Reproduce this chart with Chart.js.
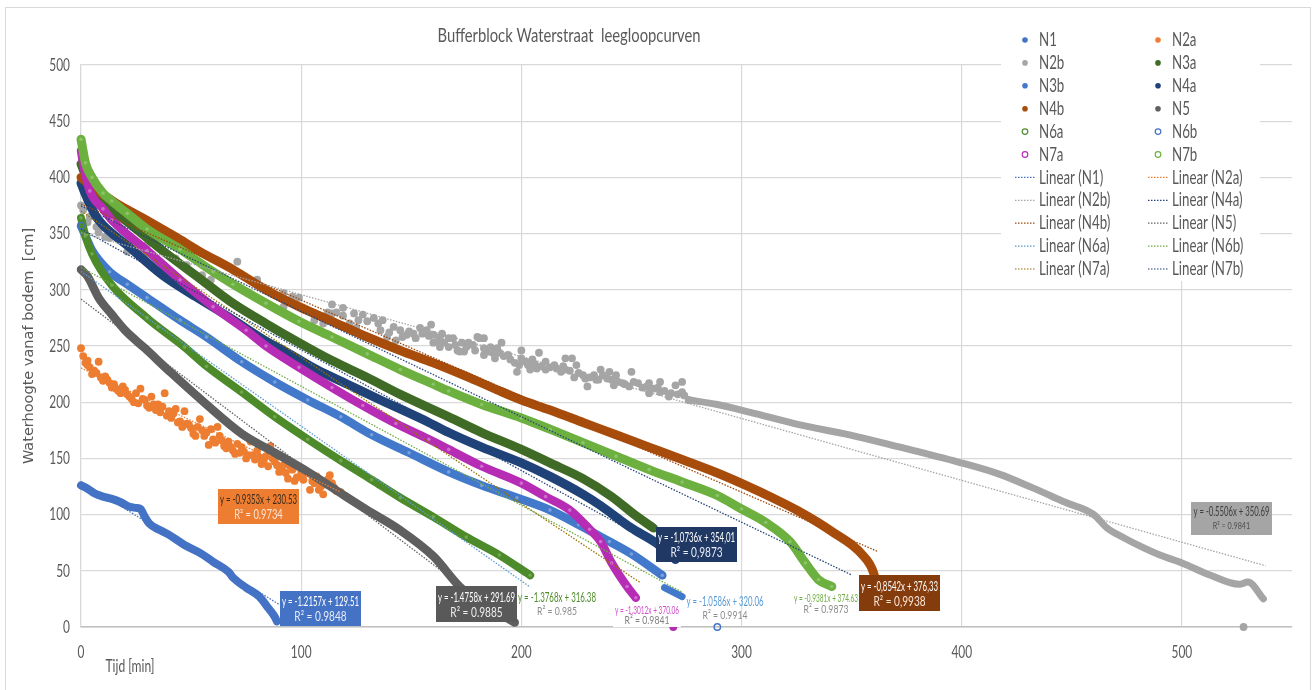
<!DOCTYPE html>
<html>
<head>
<meta charset="utf-8">
<title>Bufferblock Waterstraat leegloopcurven</title>
<script src="https://cdn.jsdelivr.net/npm/chart.js@4/dist/chart.umd.min.js"></script>
<style>
  html, body { margin: 0; padding: 0; background: #fff; }
  canvas { display: block; filter: blur(0.4px); }
</style>
</head>
<body>
<canvas id="scatter-chart" width="1315" height="690"></canvas>
<script>
// meetpunten: [tijd, waterhoogte]
var n1 = [[0,126],[3,123],[6,119],[10,116],[14,114],[18,111],[22,107],[25,106],[27,105],[29,98],[31,92],[36,86],[40,82],[47,73],[54,66],[60,58],[67,49],[69,44],[75,35],[81,27],[85,17],[88,9],[89,5]];
var n2aDots = [[0,248],[1,241],[2,235],[3,237],[3,233],[4,231],[5,225],[6,228],[7,226],[8,236],[9,222],[10,219],[11,223],[12,220],[13,217],[14,213],[15,216],[16,212],[17,210],[18,208],[19,214],[20,211],[21,207],[22,205],[23,203],[24,200],[25,208],[26,199],[27,212],[28,203],[29,202],[30,197],[31,195],[32,205],[33,198],[34,193],[35,198],[36,191],[37,196],[38,208],[39,188],[40,192],[41,186],[42,190],[43,194],[44,182],[45,183],[46,178],[47,192],[48,181],[49,180],[50,177],[51,172],[52,170],[53,178],[54,185],[55,175],[56,170],[57,173],[58,162],[59,176],[60,167],[61,164],[62,178],[63,170],[64,166],[65,161],[66,159],[67,165],[68,160],[69,157],[70,154],[71,163],[72,155],[73,160],[74,156],[75,150],[76,153],[77,165],[78,153],[79,149],[80,157],[81,151],[82,145],[83,148],[84,152],[85,143],[86,161],[87,150],[88,147],[89,144],[90,138],[91,140],[92,144],[93,137],[94,132],[95,143],[96,140],[97,130],[98,133],[100,136],[101,131],[103,137],[104,122],[105,130],[106,128],[107,134],[108,122],[109,125],[110,118],[111,127],[112,131],[113,135],[114,128],[115,124],[116,121],[118,120]];
var n2bDots = [[0,375],[1,371],[3,360],[4,365],[7,356],[8,351],[9,356],[11,347],[13,346],[21,334],[30,340],[37,335],[43,328],[48,322],[55,313],[59,309],[71,325],[80,309],[92,297],[92,285],[96,294],[99,293],[106,273],[110,270],[112,280],[114,287],[114,279],[116,280],[119,284],[119,277],[122,270],[124,279],[125,266],[126,273],[128,278],[130,272],[133,275],[135,270],[136,264],[137,273],[139,258],[140,262],[142,267],[143,255],[145,264],[146,258],[148,260],[149,263],[151,261],[152,257],[154,266],[155,261],[157,264],[158,259],[159,269],[160,260],[160,253],[162,254],[163,258],[163,249],[164,261],[165,253],[167,257],[167,249],[169,257],[170,251],[171,246],[172,245],[173,253],[174,245],[175,249],[176,253],[178,251],[179,246],[180,258],[181,257],[183,257],[183,248],[183,242],[185,245],[186,249],[187,244],[188,239],[189,248],[190,244],[191,253],[192,241],[194,242],[195,238],[197,235],[198,227],[199,233],[200,246],[200,239],[202,236],[203,233],[204,229],[205,238],[206,234],[207,230],[208,244],[209,232],[211,236],[211,229],[213,231],[215,233],[216,230],[218,227],[219,232],[220,239],[220,229],[222,228],[223,239],[224,222],[225,233],[226,226],[228,224],[229,221],[230,214],[231,222],[233,224],[234,220],[235,220],[236,229],[237,224],[239,221],[240,227],[241,220],[242,215],[243,224],[244,218],[246,217],[247,216],[249,214],[250,227],[251,218],[253,217],[255,213],[257,214],[258,217],[258,208],[260,212],[262,213],[263,218],[263,209],[265,210],[267,205],[268,208],[270,215],[271,207],[273,218],[273,209],[274,206],[276,202],[528,0]];
var n2bTail = [[276,202],[289,198],[304,191],[326,180],[349,171],[372,160],[398,147],[417,136],[432,124],[447,111],[460,100],[466,88],[474,79],[482,71],[490,64],[500,57],[513,46],[526,38],[530,40],[537,25]];
var n3a = [[0,412],[2,402],[5,392],[10,378],[22,359],[37,335],[54,310],[69,288],[84,270],[99,253],[114,237],[130,222],[145,207],[167,187],[182,173],[200,158],[213,146],[228,132],[241,116],[252,99],[260,88]];
var n3b = [[0,357],[2,348],[5,335],[13,316],[21,305],[30,293],[45,273],[57,258],[73,236],[88,218],[103,202],[118,187],[132,171],[149,155],[167,138],[182,126],[198,115],[213,104],[226,91],[240,76],[250,65],[264,46]];
var n3bTail = [[265,35],[273,27]];
var n4a = [[0,395],[2,385],[5,372],[8,362],[22,338],[37,313],[52,294],[67,276],[86,252],[92,246],[107,229],[121,216],[136,202],[158,182],[167,173],[182,160],[200,146],[213,134],[228,118],[236,108],[250,88],[261,75],[270,60]];
var n4b = [[0,400],[5,392],[16,377],[28,364],[43,347],[54,334],[69,318],[84,300],[99,285],[114,272],[130,258],[145,246],[160,235],[175,223],[189,211],[200,202],[213,193],[228,182],[243,171],[258,160],[273,149],[289,137],[302,126],[314,115],[326,103],[341,85],[355,64],[360,48],[362,30]];
var n5 = [[0,318],[3,312],[8,293],[14,278],[20,264],[29,248],[41,226],[57,198],[73,172],[88,155],[103,138],[118,119],[130,104],[145,86],[160,63],[173,34],[180,25],[190,12],[197,4]];
var n6a = [[0,364],[2,348],[5,332],[14,304],[30,275],[35,267],[47,249],[57,232],[73,209],[88,187],[103,167],[118,148],[132,131],[145,115],[160,98],[175,80],[190,64],[204,46]];
var n6bDots = [[0,357],[264,46],[289,0]];
var n7a = [[0,424],[1,412],[4,388],[10,372],[14,362],[30,335],[45,309],[60,285],[75,264],[84,250],[99,231],[114,213],[128,197],[143,181],[158,167],[167,158],[182,143],[200,128],[211,116],[222,104],[231,87],[236,76],[241,57],[248,36],[252,26]];
var n7aTail = [[269,0]];
var n7b = [[0,434],[2,413],[5,400],[10,386],[14,379],[21,368],[30,354],[45,336],[60,316],[69,305],[84,288],[99,272],[114,258],[130,243],[145,229],[160,216],[167,210],[182,198],[200,186],[213,176],[228,164],[243,152],[258,140],[273,129],[289,117],[300,105],[311,93],[322,76],[329,57],[335,42],[341,36]];

// trendlijnen: begin en eind
var trendN1 = [[0,129.5],[90,20]];
var trendN2a = [[0,230.5],[118,120]];
var trendN2b = [[0,350.7],[538,54.5]];
var trendN4a = [[0,354],[270,64]];
var trendN4b = [[0,376.3],[362,67]];
var trendN5 = [[0,291.7],[197,0.9]];
var trendN6a = [[0,316.4],[204,35.5]];
var trendN6b = [[0,320],[273,31]];
var trendN7a = [[0,370],[254,39.5]];
var trendN7b = [[0,374.6],[350,46.3]];

var xTicks = [0, 100, 200, 300, 400, 500];
var yTicks = [0, 50, 100, 150, 200, 250, 300, 350, 400, 450, 500];

var legendLeft = ["N1", "N2b", "N3b", "N4b", "N6a", "N7a", "Linear (N1)", "Linear (N2b)", "Linear (N4b)", "Linear (N6a)", "Linear (N7a)"];
var legendRight = ["N2a", "N3a", "N4a", "N5", "N6b", "N7b", "Linear (N2a)", "Linear (N4a)", "Linear (N5)", "Linear (N6b)", "Linear (N7b)"];

var eqN1 = ["y = -1.2157x + 129.51", "R\u00b2 = 0.9848"];
var eqN2a = ["y = -0.9353x + 230.53", "R\u00b2 = 0.9734"];
var eqN2b = ["y = -0.5506x + 350.69", "R\u00b2 = 0.9841"];
var eqN4a = ["y = -1,0736x + 354,01", "R\u00b2 = 0,9873"];
var eqN4b = ["y = -0,8542x + 376,33", "R\u00b2 = 0,9938"];
var eqN5 = ["y = -1.4758x + 291.69", "R\u00b2 = 0.9885"];
var eqN6a = ["y = -1.3768x + 316.38", "R\u00b2 = 0.985"];
var eqN6b = ["y = -1.0586x + 320.06", "R\u00b2 = 0.9914"];
var eqN7a = ["y = -1.3012x + 370.06", "R\u00b2 = 0.9841"];
var eqN7b = ["y = -0.9381x + 374.63", "R\u00b2 = 0.9873"];

var textFont = 'Lato, "Liberation Sans", sans-serif';

function xy(list) {
    return list.map(function (p) { return { x: p[0], y: p[1] }; });
}

// band = dikke lijn, dots = losse punten
function band(name, list, color, tint, width, order) {
    return {
        label: name, data: xy(list), showLine: true, borderColor: color, borderWidth: width,
        borderCapStyle: 'round', borderJoinStyle: 'round', cubicInterpolationMode: 'monotone', clip: false,
        pointRadius: tint ? 1.8 : 0, pointBorderWidth: 0, pointBackgroundColor: tint || color, order: order
    };
}

function dots(name, list, color, hollow, order) {
    return {
        label: name, data: xy(list), showLine: false, clip: false,
        pointRadius: hollow ? 3.2 : 3.9, pointBorderWidth: hollow ? 1.4 : 0, pointBorderColor: color,
        pointBackgroundColor: hollow ? 'rgba(255,255,255,0)' : color, order: order
    };
}

function trend(name, list, color) {
    return {
        label: name, data: xy(list), showLine: true, borderColor: color, borderWidth: 1.3,
        borderDash: [1.5, 1.5], pointRadius: 0, order: 1
    };
}

var colors = {
    "N1": '#4472c4', "N2a": '#ed7d31', "N2b": '#a5a5a5', "N3a": '#3f6b26', "N3b": '#4279cb', "N4a": '#1f4279',
    "N4b": '#a84c0c', "N5": '#5f5f5f', "N6a": '#4d8b2a', "N6b": '#4472c4', "N7a": '#b62cb4', "N7b": '#6cb03f',
    "Linear (N1)": '#4472c4', "Linear (N2a)": '#ed7d31', "Linear (N2b)": '#a5a5a5', "Linear (N4a)": '#264478',
    "Linear (N4b)": '#9e480e', "Linear (N5)": '#636363', "Linear (N6a)": '#5b9bd5', "Linear (N6b)": '#70ad47',
    "Linear (N7a)": '#997300', "Linear (N7b)": '#264478'
};
var hollowNames = ["N6a", "N6b", "N7a", "N7b"];

var datasets = [
    trend("Linear (N1)", trendN1, colors["Linear (N1)"]),
    trend("Linear (N2a)", trendN2a, colors["Linear (N2a)"]),
    trend("Linear (N2b)", trendN2b, colors["Linear (N2b)"]),
    trend("Linear (N4a)", trendN4a, colors["Linear (N4a)"]),
    trend("Linear (N4b)", trendN4b, colors["Linear (N4b)"]),
    trend("Linear (N5)", trendN5, colors["Linear (N5)"]),
    trend("Linear (N6a)", trendN6a, colors["Linear (N6a)"]),
    trend("Linear (N6b)", trendN6b, colors["Linear (N6b)"]),
    trend("Linear (N7a)", trendN7a, colors["Linear (N7a)"]),
    trend("Linear (N7b)", trendN7b, colors["Linear (N7b)"]),
    // hogere order wordt eerst getekend
    dots("N6b", n6bDots, colors["N6b"], true, 9),
    band("N7b", n7b, colors["N7b"], '#8cc46a', 9, 10),
    band("N7a", n7a, colors["N7a"], '#cf6ccd', 8.5, 11),
    dots("N7a", n7aTail, colors["N7a"], false, 11),
    band("N6a", n6a, colors["N6a"], '#70a850', 8, 12),
    band("N3b", n3b, colors["N3b"], '#7aa0db', 8.5, 13),
    band("N3b", n3bTail, colors["N3b"], null, 7, 13),
    band("N5", n5, colors["N5"], null, 8.5, 14),
    band("N4b", n4b, colors["N4b"], null, 9, 15),
    band("N4a", n4a, colors["N4a"], null, 9, 16),
    band("N3a", n3a, colors["N3a"], null, 9, 17),
    band("N2b", n2bTail, colors["N2b"], null, 7, 18),
    dots("N2b", n2bDots, colors["N2b"], false, 19),
    dots("N2a", n2aDots, colors["N2a"], false, 20),
    band("N1", n1, colors["N1"], null, 8, 21)
];

// vakjes met de vergelijkingen
var eqBoxes = [
    { lines: eqN1, x: 280, y: 591, w: 81, h: 35, fill: '#4472c4', c1: '#fff', c2: '#e8ecf8', s1: 14, s2: 14, tw: 77 },
    { lines: eqN2a, x: 218, y: 489, w: 81, h: 35, fill: '#ed7d31', c1: '#3a2a1a', c2: '#fbe5d6', s1: 14, s2: 13, tw: 77 },
    { lines: eqN5, x: 436, y: 586, w: 81, h: 36, fill: '#595959', c1: '#fff', c2: '#eee', s1: 14, s2: 14, tw: 77 },
    { lines: eqN4a, x: 656, y: 527, w: 81, h: 35, fill: '#1f3864', c1: '#fff', c2: '#e8ecf8', s1: 14, s2: 14, tw: 77 },
    { lines: eqN4b, x: 859, y: 575, w: 81, h: 36, fill: '#843c0c', c1: '#fff', c2: '#fbe5d6', s1: 14, s2: 14, tw: 77 },
    { lines: eqN2b, x: 1191, y: 502, w: 81, h: 33, fill: '#a5a5a5', c1: '#404040', c2: '#505050', s1: 13, s2: 10, tw: 76 },
    { lines: eqN6a, x: 518, y: 588, w: 78, h: 32, fill: null, c1: '#4d8b2a', c2: '#8c8c8c', s1: 14, s2: 12, tw: 78 },
    { lines: eqN7a, x: 613, y: 602, w: 68, h: 25, fill: '#fff', c1: '#d04fc8', c2: '#7f7f7f', s1: 12, s2: 12, tw: 64 },
    { lines: eqN6b, x: 686, y: 592, w: 78, h: 32, fill: null, c1: '#5b9bd5', c2: '#8c8c8c', s1: 14, s2: 12, tw: 77 },
    { lines: eqN7b, x: 793, y: 589, w: 66, h: 28, fill: null, c1: '#70ad47', c2: '#8c8c8c', s1: 12, s2: 12, tw: 64 }
];

// smalle tekst: het lettertype breder dan in het origineel, dus horizontaal inpersen
function narrowText(ctx, text, x, y, size, factor, color, align) {
    ctx.font = size + 'px ' + textFont;
    ctx.fillStyle = color;
    ctx.textAlign = align;
    ctx.textBaseline = 'middle';
    ctx.fillText(text, x, y, ctx.measureText(text).width * factor);
}

function fittedText(ctx, text, x, y, size, maxWidth, color) {
    ctx.font = size + 'px ' + textFont;
    ctx.fillStyle = color;
    ctx.textAlign = 'center';
    ctx.textBaseline = 'middle';
    ctx.fillText(text, x, y, maxWidth);
}

function drawLegendRow(ctx, name, markerX, lineX, textX, y) {
    var color = colors[name];
    if (name.indexOf("Linear") === 0) {
        ctx.strokeStyle = color;
        ctx.lineWidth = 1.2;
        ctx.setLineDash([1.5, 1.5]);
        ctx.beginPath();
        ctx.moveTo(lineX, y);
        ctx.lineTo(lineX + 21, y);
        ctx.stroke();
        ctx.setLineDash([]);
    } else {
        ctx.beginPath();
        ctx.arc(markerX, y, 2.8, 0, Math.PI * 2);
        if (hollowNames.indexOf(name) >= 0) {
            ctx.strokeStyle = color;
            ctx.lineWidth = 1.2;
            ctx.stroke();
        } else {
            ctx.fillStyle = color;
            ctx.fill();
        }
    }
    narrowText(ctx, name, textX, y, 19, 0.7, '#595959', 'left');
}

var decorPlugin = {
    id: 'decor',
    beforeDraw: function (chart) {
        var ctx = chart.ctx;
        ctx.save();
        ctx.strokeStyle = '#d9d9d9';
        ctx.lineWidth = 1;
        ctx.strokeRect(5.5, 7.5, 1305, 700);
        ctx.restore();
    },
    afterDatasetsDraw: function (chart) {
        var ctx = chart.ctx;
        ctx.save();

        // aslabels via de schalen van de grafiek
        chart.scales.x.ticks.forEach(function (t) {
            narrowText(ctx, String(t.value), chart.scales.x.getPixelForValue(t.value), 652, 18, 0.66, '#595959', 'center');
        });
        chart.scales.y.ticks.forEach(function (t) {
            narrowText(ctx, String(t.value), 70, chart.scales.y.getPixelForValue(t.value), 18, 0.66, '#595959', 'right');
        });

        fittedText(ctx, "Bufferblock Waterstraat  leegloopcurven", 569, 36, 19, 263, '#595959');
        fittedText(ctx, "Tijd [min]", 130, 667, 17, 49, '#595959');

        eqBoxes.forEach(function (b) {
            if (b.fill) {
                ctx.fillStyle = b.fill;
                ctx.fillRect(b.x, b.y, b.w, b.h);
            }
            var cx = b.x + b.w / 2;
            fittedText(ctx, b.lines[0], cx, b.y + b.h * 0.31, b.s1, b.tw, b.c1);
            narrowText(ctx, b.lines[1], cx, b.y + b.h * 0.73, b.s2, 0.72, b.c2, 'center');
        });

        // legenda in twee kolommen
        ctx.fillStyle = '#fff';
        ctx.fillRect(1001, 25, 259, 256);
        for (var i = 0; i < legendLeft.length; i++) {
            var rowY = 40 + i * 22.9;
            drawLegendRow(ctx, legendLeft[i], 1025, 1015, 1039, rowY);
            drawLegendRow(ctx, legendRight[i], 1158, 1148, 1172, rowY);
        }
        ctx.restore();
    }
};

var ctx = document.getElementById('scatter-chart').getContext('2d');
var chart = new Chart(ctx, {
    type: 'scatter',
    data: { datasets: datasets },
    plugins: [decorPlugin],
    options: {
        responsive: false,
        animation: false,
        layout: { padding: { top: 65, right: 23, left: 0, bottom: 0 } },
        plugins: { legend: { display: false }, title: { display: false }, tooltip: { enabled: false } },
        scales: {
            x: {
                type: 'linear', min: 0, max: 550,
                afterFit: function (scale) { scale.height = 63; },
                afterBuildTicks: function (scale) { scale.ticks = xTicks.map(function (v) { return { value: v }; }); },
                grid: { color: '#d9d9d9', lineWidth: 1.2, drawTicks: false },
                border: { color: '#bfbfbf', width: 1.5 },
                ticks: { display: false }
            },
            y: {
                type: 'linear', min: 0, max: 500,
                afterFit: function (scale) { scale.width = 81; },
                afterBuildTicks: function (scale) { scale.ticks = yTicks.map(function (v) { return { value: v }; }); },
                grid: { color: '#d9d9d9', lineWidth: 1.2, drawTicks: false },
                border: { color: '#d9d9d9', width: 1.2 },
                title: {
                    display: true, text: 'Waterhoogte vanaf bodem  [cm]', color: '#595959',
                    font: { family: '"DejaVu Sans"', size: 14.5 }, padding: { top: 21, bottom: 0 }
                },
                ticks: { display: false }
            }
        }
    }
});
</script>
</body>
</html>
